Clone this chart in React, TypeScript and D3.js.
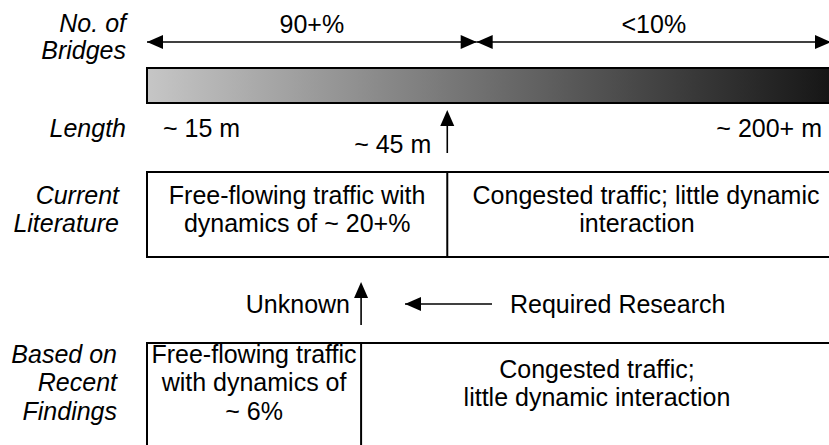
import React from "react";
import * as d3 from "d3";

// ---- content ----
const rowLabelLines: string[][] = [["No. of", "Bridges"], ["Length"], ["Current", "Literature"], ["Based on", "Recent", "Findings"]];
const shareLabels = ["90+%", "<10%"];
const shareBounds = [0, 48.2, 100]; // % of span
const lengthLabels = ["~ 15 m", "~ 45 m", "~ 200+ m"];
const lengthMark = 43.9; // % of span where ~45 m sits
const literatureSplit = 43.9;
const literatureCells: string[][] = [["Free-flowing traffic with", "dynamics of ~ 20+%"], ["Congested traffic; little dynamic", "interaction"]];
const findingsSplit = 31.3;
const findingsCells: string[][] = [["Free-flowing traffic", "with dynamics of", "~ 6%"], ["Congested traffic;", "little dynamic interaction"]];
const researchLabels = ["Unknown", "Required Research"];
const gradientStops = ["#c6c6c6", "#121212"];

// ---- layout ----
const W = 829, H = 445;
const FONT = "'Liberation Sans', Arial, Helvetica, sans-serif";
const FS = 25;
const x = d3.scaleLinear().domain([0, 100]).range([147, 831]);
const RIGHT_EDGE = 845;

function hArrow(x1: number, x2: number, y: number, both: boolean, key: string) {
  const L = 16, hw = 7;
  const dir = x2 > x1 ? 1 : -1;
  const heads: string[] = [];
  const tip = (tx: number, d: number) => {
    const p = d3.path();
    p.moveTo(tx, y);
    p.lineTo(tx - d * L, y - hw);
    p.lineTo(tx - d * L, y + hw);
    p.closePath();
    return p.toString();
  };
  heads.push(tip(x2, dir));
  if (both) heads.push(tip(x1, -dir));
  return (
    <g key={key}>
      <line x1={x1} x2={x2} y1={y} y2={y} stroke="#000" strokeWidth={1.6} />
      {heads.map((d, i) => <path key={i} d={d} fill="#000" />)}
    </g>
  );
}

function vArrow(xp: number, y1: number, y2: number, key: string) {
  const L = 16, hw = 7;
  const p = d3.path();
  p.moveTo(xp, y2);
  p.lineTo(xp - hw, y2 + L);
  p.lineTo(xp + hw, y2 + L);
  p.closePath();
  return (
    <g key={key}>
      <line x1={xp} x2={xp} y1={y1} y2={y2 + 4} stroke="#000" strokeWidth={1.6} />
      <path d={p.toString()} fill="#000" />
    </g>
  );
}

export default function App() {
  const labelX = [126, 126, 119, 117];
  const labelBase = [[32, 59], [137], [204, 232], [363, 391, 420]];
  const litTop = 172, litBot = 257;
  const findTop = 343;
  const lenMarkX = x(lengthMark);
  const litX = x(literatureSplit);
  const findX = x(findingsSplit);
  const txt = { fontFamily: FONT, fontSize: FS, fill: "#000" } as const;
  const litRightX = [646, 637];

  return (
    <svg width={W} height={H} style={{ position: "absolute", left: 0, top: 0, background: "#fff" }}>
      <defs>
        <linearGradient id="lenGrad" x1="0" x2="1" y1="0" y2="0">
          <stop offset="0%" stopColor={gradientStops[0]} />
          <stop offset="100%" stopColor={gradientStops[1]} />
        </linearGradient>
      </defs>
      <rect width={W} height={H} fill="#fff" />

      {/* row labels */}
      {rowLabelLines.map((lines, i) =>
        lines.map((t, j) => (
          <text key={`rl${i}-${j}`} x={labelX[i]} y={labelBase[i][j]} textAnchor="end" fontStyle="italic" {...txt}>{t}</text>
        ))
      )}

      {/* share arrows */}
      {shareLabels.map((t, i) => {
        const a = x(shareBounds[i]), b = x(shareBounds[i + 1]);
        return (
          <g key={`sh${i}`}>
            {hArrow(a, b, 42, true, `sa${i}`)}
            <text x={(a + b) / 2} y={33} textAnchor="middle" {...txt}>{t}</text>
          </g>
        );
      })}

      {/* gradient bar */}
      <rect x={x(0)} y={68} width={RIGHT_EDGE - x(0)} height={35} fill="url(#lenGrad)" stroke="#000" strokeWidth={2} />

      {/* length labels */}
      <text x={163} y={137} textAnchor="start" {...txt}>{lengthLabels[0]}</text>
      <text x={lenMarkX - 16} y={153} textAnchor="end" {...txt}>{lengthLabels[1]}</text>
      <text x={822} y={137} textAnchor="end" {...txt}>{lengthLabels[2]}</text>
      {vArrow(lenMarkX, 153, 110, "lenArrow")}

      {/* current literature box */}
      <rect x={x(0)} y={litTop} width={RIGHT_EDGE - x(0)} height={litBot - litTop} fill="none" stroke="#000" strokeWidth={2} />
      <line x1={litX} x2={litX} y1={litTop} y2={litBot} stroke="#000" strokeWidth={2} />
      {literatureCells[0].map((t, j) => (
        <text key={`lc0${j}`} x={(x(0) + litX) / 2} y={[204, 232][j]} textAnchor="middle" {...txt}>{t}</text>
      ))}
      {literatureCells[1].map((t, j) => (
        <text key={`lc1${j}`} x={litRightX[j]} y={[204, 232][j]} textAnchor="middle" {...txt}>{t}</text>
      ))}

      {/* research row */}
      <text x={350} y={313} textAnchor="end" {...txt}>{researchLabels[0]}</text>
      {vArrow(findX, 325, 282, "unkArrow")}
      {hArrow(492, 405, 304, false, "reqArrow")}
      <text x={510} y={313} textAnchor="start" {...txt}>{researchLabels[1]}</text>

      {/* recent findings box */}
      <rect x={x(0)} y={findTop} width={RIGHT_EDGE - x(0)} height={H + 20 - findTop} fill="none" stroke="#000" strokeWidth={2} />
      <line x1={findX} x2={findX} y1={findTop} y2={H + 20} stroke="#000" strokeWidth={2} />
      {findingsCells[0].map((t, j) => (
        <text key={`fc0${j}`} x={(x(0) + findX) / 2} y={[363, 391, 420][j]} textAnchor="middle" {...txt}>{t}</text>
      ))}
      {findingsCells[1].map((t, j) => (
        <text key={`fc1${j}`} x={597} y={[378, 406][j]} textAnchor="middle" {...txt}>{t}</text>
      ))}
    </svg>
  );
}
